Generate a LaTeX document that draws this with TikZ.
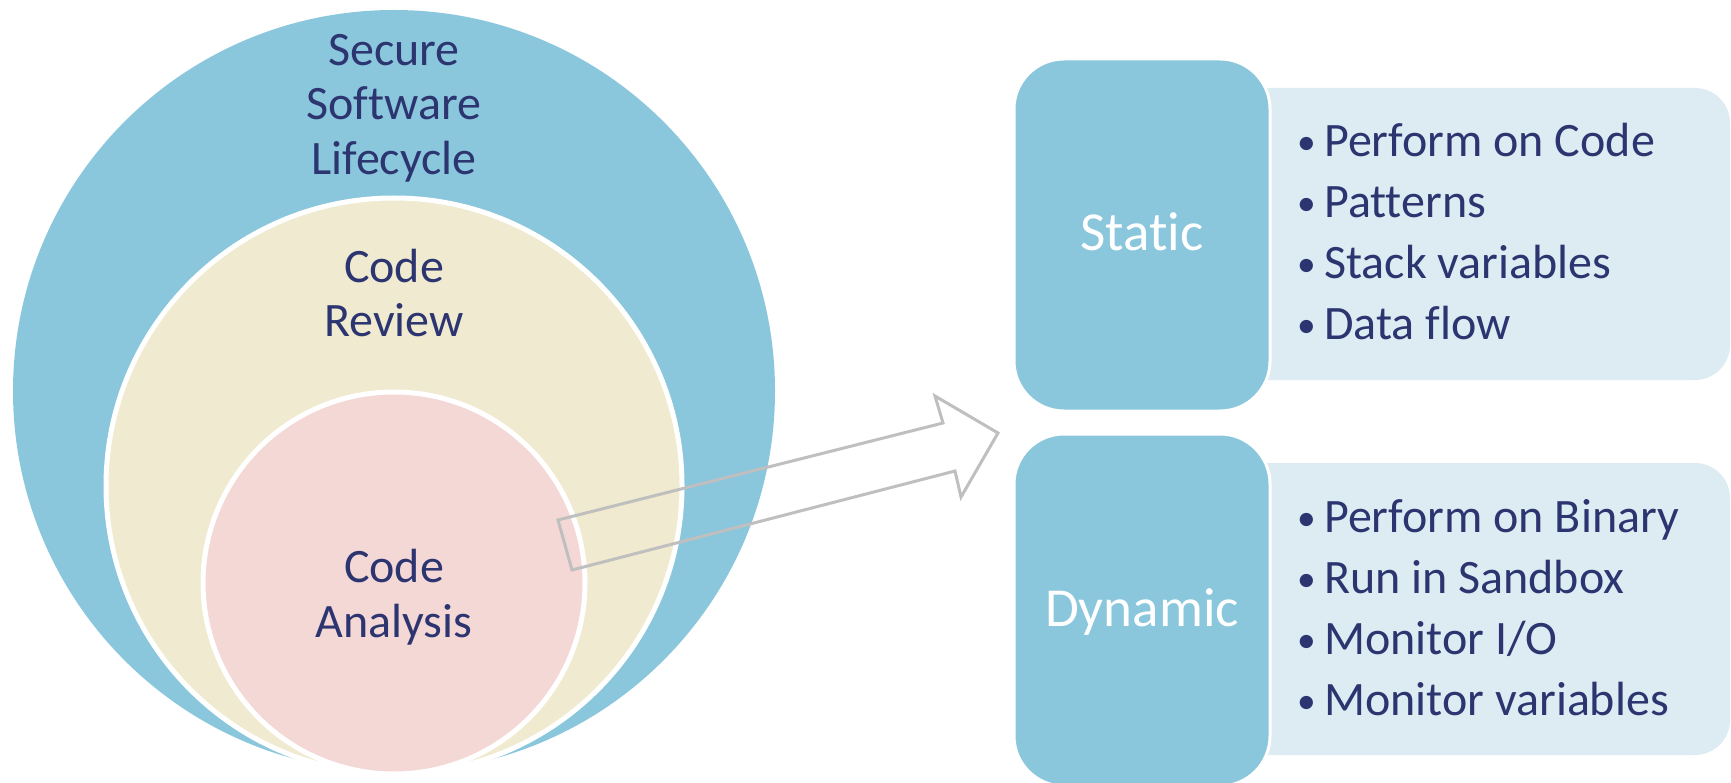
\documentclass[tikz,border=0pt]{standalone}
\usepackage{graphicx}
\usepackage{fontspec}
\setmainfont{Carlito}[Ligatures=NoCommon]
\definecolor{outerblue}{HTML}{8AC7DC}
\definecolor{cream}{HTML}{F0EAD0}
\definecolor{pinkc}{HTML}{F4D8D6}
\definecolor{lightbox}{HTML}{DDEBF2}
\definecolor{navy}{HTML}{2C3570}
\definecolor{arrowgray}{HTML}{BFBFBF}
\newcommand{\mybul}{\makebox[32pt][l]{\hspace{5pt}\raisebox{2pt}{\scalebox{0.78}{\textbullet}}}}
\begin{document}
\begin{tikzpicture}[x=1pt,y=-1pt,
  ring/.style={circle, inner sep=0pt, draw=white, line width=5pt},
  circtext/.style={text=navy, align=center, inner sep=0pt, anchor=base,
    font=\fontsize{48}{54.5}\selectfont},
  darkbox/.style={rectangle, rounded corners=50pt, fill=outerblue, draw=white,
    line width=3pt, minimum width=256pt, minimum height=352pt, inner sep=0pt},
  lightpanel/.style={rectangle, rounded corners=35pt, fill=lightbox,
    minimum width=530pt, minimum height=292pt, inner sep=0pt},
  boxtitle/.style={text=white, inner sep=0pt, anchor=base,
    font=\fontsize{55}{60}\selectfont},
  bullets/.style={text=navy, align=left, inner sep=0pt, anchor=base west,
    font=\fontsize{48}{61}\selectfont},
  blockarrow/.style={draw=arrowgray, line width=3pt, line join=miter}
]
\useasboundingbox (0,0) rectangle (1731,783);

% nested circles
\node[circle, inner sep=0pt, fill=outerblue, minimum size=762pt] (ssl) at (394,391) {};
\node[ring, fill=cream, minimum size=576pt] (cr) at (394,486) {};
\node[ring, fill=pinkc, minimum size=382pt] (ca) at (394,583) {};

\node[circtext] (ssltext) at (394,174.5) {Secure\\Software\\Lifecycle};
\node[circtext] (crtext) at (394,337) {Code\\Review};
\node[circtext] (catext) at (394,637) {Code\\Analysis};

% right panels
\node[lightpanel] (slight) at (1465,234) {};
\node[lightpanel] (dlight) at (1465,609) {};
\node[darkbox] (static) at (1142,235) {};
\node[darkbox] (dynamic) at (1142,610) {};

\node[boxtitle] (stitle) at (1142,251) {Static};
\node[boxtitle] (dtitle) at (1142,626) {Dynamic};

\node[bullets] (slist) at (1292,340) {%
  \mybul Perform on Code\\
  \mybul Patterns\\
  \mybul Stack variables\\
  \mybul Data flow};
\node[bullets] (dlist) at (1292,715) {%
  \mybul Perform on Binary\\
  \mybul Run in Sandbox\\
  \mybul Monitor I/O\\
  \mybul Monitor variables};

% block arrow (outline only)
\coordinate (a1) at (558,520);
\coordinate (a2) at (943,423);
\coordinate (a3) at (935,396);
\coordinate (tip) at (998,433);
\coordinate (a5) at (961,497);
\coordinate (a6) at (955,471);
\coordinate (a7) at (572,570);
\draw[blockarrow] (a1) -- (a2) -- (a3) -- (tip) -- (a5) -- (a6) -- (a7) -- cycle;
\end{tikzpicture}
\end{document}
